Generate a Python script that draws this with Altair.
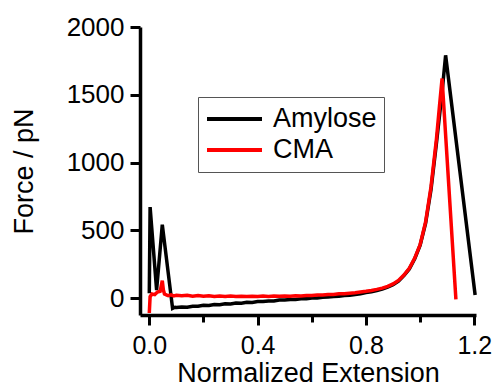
import altair as alt
import pandas as pd

# Amylose (black) trace
amy_x = [0.000, 0.003, 0.027, 0.048, 0.086, 0.095, 0.10, 0.12, 0.14, 0.16, 0.18, 0.20,
         0.22, 0.24, 0.26, 0.28, 0.30, 0.32, 0.34, 0.36, 0.38, 0.40, 0.42, 0.44, 0.46,
         0.48, 0.50, 0.52, 0.54, 0.56, 0.58, 0.60, 0.62, 0.64, 0.66, 0.68, 0.70, 0.72,
         0.74, 0.76, 0.78, 0.80, 0.82, 0.84, 0.86, 0.88, 0.90, 0.92, 0.94, 0.96, 0.98,
         1.00, 1.02, 1.04, 1.06, 1.08, 1.094, 1.203]
amy_y = [35, 671, 59, 542, -76, -68, -70, -66, -67, -60, -61, -54,
         -55, -48, -49, -42, -43, -37, -38, -31, -32, -26, -26, -21, -21,
         -15, -15, -10, -10, -5, -5, 1, 1, 6, 7, 12, 13, 19,
         21, 27, 31, 40, 46, 55, 66, 80, 98, 125, 165, 215, 290,
         390, 550, 800, 1140, 1500, 1791, 22]

# CMA (red) trace
cma_x = [0.000, 0.003, 0.010, 0.020, 0.030, 0.040, 0.048, 0.052, 0.056, 0.065,
         0.07, 0.08, 0.09, 0.10, 0.12, 0.14, 0.16, 0.18, 0.20, 0.22, 0.24, 0.26,
         0.28, 0.30, 0.32, 0.34, 0.36, 0.38, 0.40, 0.42, 0.44, 0.46, 0.48, 0.50,
         0.52, 0.54, 0.56, 0.58, 0.60, 0.62, 0.64, 0.66, 0.68, 0.70, 0.72, 0.74,
         0.76, 0.78, 0.80, 0.82, 0.84, 0.86, 0.88, 0.90, 0.92, 0.94, 0.96, 0.98,
         1.00, 1.02, 1.04, 1.06, 1.072, 1.081, 1.132]
cma_y = [-110, 10, 30, 25, 45, 50, 128, 60, 30, 22,
         18, 24, 16, 21, 17, 20, 14, 18, 14, 17, 12, 15,
         12, 15, 11, 14, 11, 14, 12, 15, 12, 15, 13, 16,
         14, 17, 16, 19, 19, 22, 23, 26, 27, 31, 32, 36,
         39, 45, 50, 56, 64, 73, 86, 104, 130, 170, 220, 295,
         395, 560, 820, 1170, 1431, 1620, -10]

series_names = ["Amylose", "CMA"]
series_colors = ["black", "red"]

x_ticks = [0.0, 0.2, 0.4, 0.6, 0.8, 1.0, 1.2]
y_ticks = [0, 500, 1000, 1500, 2000]

df = pd.concat([
    pd.DataFrame({"x": amy_x, "y": amy_y, "series": series_names[0], "ord": range(len(amy_x))}),
    pd.DataFrame({"x": cma_x, "y": cma_y, "series": series_names[1], "ord": range(len(cma_x))}),
])

FONT = "Liberation Sans"

chart = alt.Chart(df).mark_line(strokeWidth=3.5).encode(
    x=alt.X("x:Q",
            scale=alt.Scale(domain=[-0.0343, 1.2062], nice=False, zero=False),
            axis=alt.Axis(
                values=x_ticks,
                title="Normalized Extension",
                labelExpr="round(datum.value*10) % 4 == 0 ? format(datum.value, '.1f') : ''",
                tickSize={"condition": {"test": "round(datum.value*10) % 4 == 0", "value": 10}, "value": 7},
                labelPadding=8,
                labelFontSize=25,
                titleY=45,
                titleBaseline="top",
            )),
    y=alt.Y("y:Q",
            scale=alt.Scale(domain=[-125, 2000], nice=False, zero=False),
            axis=alt.Axis(
                values=y_ticks,
                format="d",
                title="Force / pN",
                tickSize=10,
                labelPadding=6,
                titleAngle=270,
                titleBaseline="top",
                titleAlign="center",
                titleX=-129,
                titleY=144,
            )),
    color=alt.Color("series:N",
                    scale=alt.Scale(domain=series_names, range=series_colors),
                    legend=alt.Legend(
                        title=None,
                        orient="none",
                        legendX=58,
                        legendY=70,
                        symbolType="stroke",
                        symbolSize=3025,
                        symbolStrokeWidth=4,
                        labelFontSize=27,
                        labelOffset=9,
                        clipHeight=30,
                        rowPadding=1,
                        padding=7,
                        strokeColor="#555555",
                        fillColor="white",
                    )),
    order="ord:Q",
).properties(
    width=336,
    height=288,
    padding={"left": 140, "top": 27, "right": 22, "bottom": 77},
    autosize=alt.AutoSizeParams(type="none"),
).configure(
    font=FONT,
).configure_view(
    stroke="transparent",
).configure_axis(
    labelFont=FONT,
    titleFont=FONT,
    labelFontSize=26,
    titleFontSize=27,
    titleFontWeight="normal",
    labelColor="black",
    titleColor="black",
    domainColor="black",
    domainWidth=3.5,
    tickColor="black",
    tickWidth=3,
    grid=False,
).configure_legend(
    labelFont=FONT,
    labelColor="black",
)

chart.save("out.html", embed_options={"renderer": "svg", "actions": False})
